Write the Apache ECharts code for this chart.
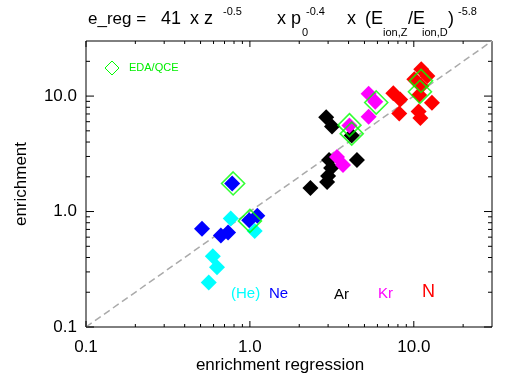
<!DOCTYPE html>
<html><head><meta charset="utf-8">
<script src="https://cdn.jsdelivr.net/npm/echarts@6/dist/echarts.min.js"></script>
<style>html,body{margin:0;padding:0;background:#fff}#c{width:507px;height:390px}</style>
</head><body><div id="c"></div>
<script>
// ---- data ----
const heX = [0.764, 1.07, 0.594, 0.63, 0.561];
const heY = [0.87, 0.68, 0.41, 0.33, 0.243];
const neX = [0.78, 0.99, 1.11, 0.51, 0.665, 0.736];
const neY = [1.75, 0.84, 0.92, 0.71, 0.62, 0.66];
const arX = [2.92, 3.17, 4.18, 4.5, 2.34, 3.04, 3.13, 3.0, 2.96];
const arY = [6.57, 5.45, 4.55, 2.79, 1.6, 2.79, 2.38, 2.03, 1.8];
const krX = [5.3, 5.82, 5.3, 4.05, 3.4, 3.7];
const krY = [10.5, 8.93, 6.62, 5.56, 2.97, 2.53];
const nX = [7.5, 8.26, 8.15, 10.7, 10.97, 12.9, 11.1, 12.1, 10.07, 11.1, 10.8];
const nY = [10.6, 9.33, 7.05, 7.35, 6.46, 8.75, 17.1, 14.9, 14.0, 12.2, 10.2];
const edaX = [0.79, 1.0, 4.05, 4.18, 5.9, 11.07, 10.9];
const edaY = [1.75, 0.83, 5.6, 4.73, 8.8, 13.55, 10.9];
const diagX = [0.1, 30];
const diagY = [0.1, 30];
const tickLabelVals = [0.1, 1, 10];
const tickLabelText = ['0.1', '1.0', '10.0'];
const minorTickVals = [0.2,0.3,0.4,0.5,0.6,0.7,0.8,0.9,2,3,4,5,6,7,8,9,20];
const axisMin = 0.1, axisMax = 30;

const zip = (a, b) => a.map((v, i) => [v, b[i]]);
const FONT = '"Liberation Sans", Arial, Helvetica, sans-serif';

const chart = echarts.init(document.getElementById('c'), null, {renderer: 'canvas'});

function labelFmt(v) {
  for (let i = 0; i < tickLabelVals.length; i++) {
    if (Math.abs(Math.log10(v) - Math.log10(tickLabelVals[i])) < 1e-6) return tickLabelText[i];
  }
  return '';
}

function dot(color) {
  return {type: 'scatter', symbol: 'diamond', symbolSize: 16,
    itemStyle: {color: color, opacity: 1}, z: 3, silent: true};
}

const option = {
  animation: false,
  backgroundColor: '#fff',
  grid: {left: 86, right: 15, top: 41, bottom: 63, show: true, borderColor: '#000', borderWidth: 1, backgroundColor: 'transparent'},
  xAxis: {type: 'log', logBase: 10, min: axisMin, max: axisMax,
    axisLine: {show: false}, axisTick: {show: false}, splitLine: {show: false},
    axisLabel: {formatter: labelFmt, fontSize: 17, color: '#000', fontFamily: FONT, margin: 12, showMaxLabel: false}},
  yAxis: {type: 'log', logBase: 10, min: axisMin, max: axisMax,
    axisLine: {show: false}, axisTick: {show: false}, splitLine: {show: false},
    axisLabel: {formatter: labelFmt, fontSize: 17, color: '#000', fontFamily: FONT, margin: 9, showMaxLabel: false}},
  series: [
    {type: 'line', data: zip(diagX, diagY), symbol: 'none', silent: true, z: 1,
      lineStyle: {color: '#aaaaaa', width: 1.5, type: [7, 4]}},
    Object.assign(dot('#00ffff'), {data: zip(heX, heY)}),
    Object.assign(dot('#0000ff'), {data: zip(neX, neY)}),
    Object.assign(dot('#000000'), {data: zip(arX, arY)}),
    Object.assign(dot('#ff00ff'), {data: zip(krX, krY)}),
    Object.assign(dot('#ff0000'), {data: zip(nX, nY)}),
    {type: 'scatter', symbol: 'diamond', symbolSize: 23, data: zip(edaX, edaY), z: 4, silent: true,
      itemStyle: {color: 'transparent', borderColor: '#00ff00', borderWidth: 1.6}},
    {type: 'custom', data: [[1, 1]], silent: true, z: 6,
      renderItem: function (params, api) {
        const cs = params.coordSys;
        const x0 = cs.x, y0 = cs.y, x1 = cs.x + cs.width, y1 = cs.y + cs.height;
        const ch = [];
        const st = {stroke: '#000', lineWidth: 1};
        const add = (vals, major) => {
          vals.forEach(v => {
            const px = api.coord([v, 1])[0];
            const py = api.coord([1, v])[1];
            const lx = major ? 6 : 3, ly = major ? 8 : 4;
            ch.push({type: 'line', shape: {x1: px, y1: y1, x2: px, y2: y1 - lx}, style: st});
            ch.push({type: 'line', shape: {x1: px, y1: y0, x2: px, y2: y0 + lx}, style: st});
            ch.push({type: 'line', shape: {x1: x0, y1: py, x2: x0 + ly, y2: py}, style: st});
            ch.push({type: 'line', shape: {x1: x1, y1: py, x2: x1 - ly, y2: py}, style: st});
          });
        };
        add(tickLabelVals, true);
        add(minorTickVals, false);
        return {type: 'group', children: ch};
      }}
  ],
  graphic: [
    // title
    {type: 'text', x: 88, y: 19, style: {text: 'e_reg =', font: '17px ' + FONT, fill: '#000', verticalAlign: 'middle'}},
    {type: 'text', x: 161, y: 19, style: {text: '41', font: '18px ' + FONT, fill: '#000', verticalAlign: 'middle'}},
    {type: 'text', x: 190, y: 19, style: {text: 'x z', font: '18px ' + FONT, fill: '#000', verticalAlign: 'middle'}},
    {type: 'text', x: 223, y: 11.5, style: {text: '-0.5', font: '11px ' + FONT, fill: '#000', verticalAlign: 'middle'}},
    {type: 'text', x: 277, y: 19, style: {text: 'x p', font: '18px ' + FONT, fill: '#000', verticalAlign: 'middle'}},
    {type: 'text', x: 302, y: 33, style: {text: '0', font: '11px ' + FONT, fill: '#000', verticalAlign: 'middle'}},
    {type: 'text', x: 306, y: 11.5, style: {text: '-0.4', font: '11px ' + FONT, fill: '#000', verticalAlign: 'middle'}},
    {type: 'text', x: 347, y: 19, style: {text: 'x', font: '18px ' + FONT, fill: '#000', verticalAlign: 'middle'}},
    {type: 'text', x: 365, y: 19, style: {text: '(E', font: '18px ' + FONT, fill: '#000', verticalAlign: 'middle'}},
    {type: 'text', x: 383, y: 33, style: {text: 'ion,Z', font: '11px ' + FONT, fill: '#000', verticalAlign: 'middle'}},
    {type: 'text', x: 408, y: 19, style: {text: '/E', font: '18px ' + FONT, fill: '#000', verticalAlign: 'middle'}},
    {type: 'text', x: 422, y: 33, style: {text: 'ion,D', font: '11px ' + FONT, fill: '#000', verticalAlign: 'middle'}},
    {type: 'text', x: 448, y: 19, style: {text: ')', font: '18px ' + FONT, fill: '#000', verticalAlign: 'middle'}},
    {type: 'text', x: 458, y: 11.5, style: {text: '-5.8', font: '11px ' + FONT, fill: '#000', verticalAlign: 'middle'}},
    // axis titles
    {type: 'text', x: 280, y: 365, style: {text: 'enrichment regression', font: '17px ' + FONT, fill: '#000', align: 'center', verticalAlign: 'middle'}},
    {type: 'text', x: 21, y: 184, rotation: Math.PI / 2, style: {text: 'enrichment', font: '17px ' + FONT, fill: '#000', align: 'center', verticalAlign: 'middle'}},
    // legend for EDA/QCE
    {type: 'polygon', shape: {points: [[112, 61], [119, 68], [112, 75], [105, 68]]}, style: {fill: 'none', stroke: '#00ff00', lineWidth: 1}},
    {type: 'text', x: 129, y: 68, style: {text: 'EDA/QCE', font: '11px ' + FONT, fill: '#00ee00', verticalAlign: 'middle'}},
    // element labels
    {type: 'text', x: 231, y: 294, style: {text: '(He)', font: '15px ' + FONT, fill: '#00ffff', verticalAlign: 'middle'}},
    {type: 'text', x: 269, y: 294, style: {text: 'Ne', font: '15px ' + FONT, fill: '#0000ff', verticalAlign: 'middle'}},
    {type: 'text', x: 334, y: 295, style: {text: 'Ar', font: '15px ' + FONT, fill: '#000000', verticalAlign: 'middle'}},
    {type: 'text', x: 378, y: 294, style: {text: 'Kr', font: '15px ' + FONT, fill: '#ff00ff', verticalAlign: 'middle'}},
    {type: 'text', x: 422, y: 292, style: {text: 'N', font: '18px ' + FONT, fill: '#ff0000', verticalAlign: 'middle'}}
  ]
};
chart.setOption(option);
</script>
</body></html>
